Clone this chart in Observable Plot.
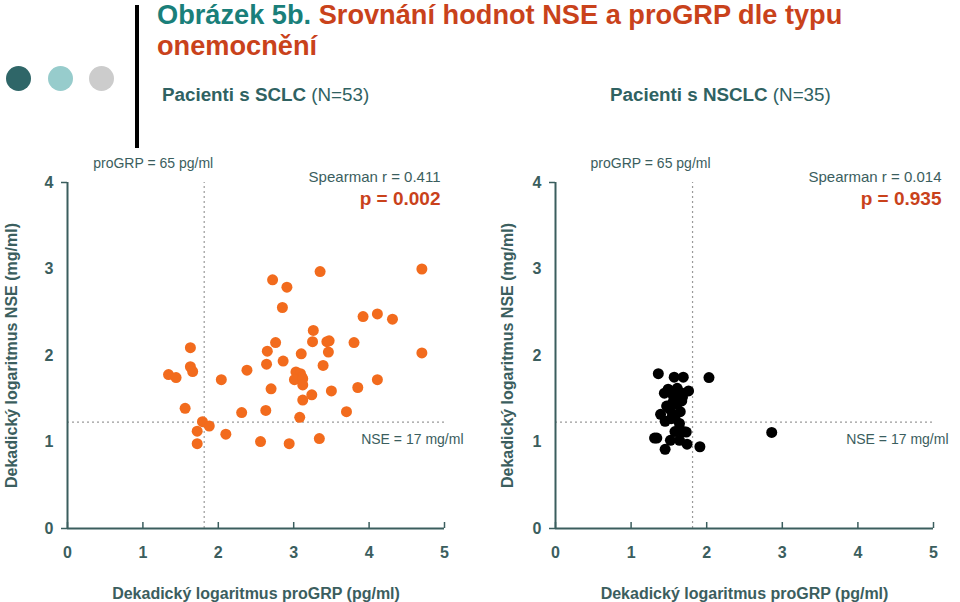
<!DOCTYPE html>
<html>
<head>
<meta charset="utf-8">
<script src="https://cdn.jsdelivr.net/npm/d3@7"></script>
<script src="https://cdn.jsdelivr.net/npm/@observablehq/plot@0.6"></script>
<style>
  html, body { margin: 0; padding: 0; background: #fff; }
  body { width: 960px; height: 602px; position: relative; overflow: hidden; font-family: "Liberation Sans", Arial, sans-serif; }
  .dot { position: absolute; width: 25px; height: 25px; border-radius: 50%; top: 66px; }
  .bar { position: absolute; left: 135px; top: 5px; width: 4px; height: 143px; background: #000; }
  .title { position: absolute; left: 157px; font-size: 27.2px; line-height: 30px; font-weight: bold; color: #c9421b; white-space: nowrap; }
  .title .lead { color: #1a7f7a; }
  .sub { position: absolute; top: 84px; font-size: 18.8px; color: #2f6262; white-space: nowrap; }
  .sub b { font-weight: bold; }
  .panel { position: absolute; top: 140px; }
</style>
</head>
<body>
<div class="dot" style="left:6px;background:#2f6668"></div>
<div class="dot" style="left:48px;background:#97cccc"></div>
<div class="dot" style="left:89px;background:#cccccc"></div>
<div class="bar"></div>
<div class="title" style="top:0px"><span class="lead">Obrázek 5b.</span> Srovnání hodnot NSE a proGRP dle typu</div>
<div class="title" style="top:30.6px">onemocnění</div>
<div class="sub" style="left:162px"><b>Pacienti s SCLC</b> (N=53)</div>
<div class="sub" style="left:610px"><b>Pacienti s NSCLC</b> (N=35)</div>
<div class="panel" id="left" style="left:0px"></div>
<div class="panel" id="right" style="left:490px"></div>
<script>
// ---- data ----
const xTicks = [0, 1, 2, 3, 4, 5];
const yTicks = [0, 1, 2, 3, 4];
const thresholdProGRP = 65; // pg/ml
const thresholdNSE = 17;    // mg/ml

const sclcProGRP = [2.72,3.35,4.70,2.91,2.85,3.92,4.11,4.31,3.26,2.76,3.25,3.44,3.47,3.80,1.63,2.65,3.46,3.10,4.70,2.64,2.86,3.39,1.63,1.66,2.38,1.34,1.44,2.04,3.03,3.09,3.11,3.01,3.12,3.12,4.11,2.70,3.50,3.85,3.12,3.24,1.56,2.31,2.63,3.70,3.08,1.79,1.88,1.72,2.10,1.72,2.56,2.94,3.34];
const sclcNSE = [2.875,2.97,3.0,2.79,2.555,2.45,2.48,2.42,2.29,2.15,2.16,2.16,2.17,2.15,2.09,2.05,2.04,2.02,2.03,1.90,1.935,1.885,1.87,1.815,1.83,1.78,1.745,1.72,1.81,1.79,1.75,1.72,1.73,1.66,1.72,1.615,1.59,1.63,1.485,1.545,1.39,1.34,1.365,1.35,1.285,1.235,1.185,1.125,1.09,0.98,1.005,0.98,1.04];

const nsclcProGRP = [1.36,1.57,1.69,2.03,1.44,1.49,1.61,1.66,1.76,1.56,1.68,1.55,1.67,1.61,1.47,1.51,1.65,1.39,1.55,1.58,1.45,1.64,1.58,1.69,1.73,1.31,1.34,1.52,1.64,1.74,1.45,1.91,2.86,1.62,1.53];
const nsclcNSE = [1.79,1.75,1.75,1.745,1.565,1.61,1.62,1.57,1.59,1.53,1.52,1.455,1.475,1.44,1.415,1.38,1.35,1.32,1.32,1.275,1.24,1.215,1.12,1.12,1.115,1.045,1.045,1.02,1.02,0.975,0.915,0.945,1.11,1.49,1.27];

const sclcStats = {r: "0.411", p: "0.002"};
const nsclcStats = {r: "0.014", p: "0.935"};

const xLabel = "Dekadický logaritmus proGRP (pg/ml)";
const yLabel = "Dekadický logaritmus NSE (mg/ml)";

// ---- styles ----
const axisColor = "#3b5e5e";
const red = "#c9421b";
const font = "'Liberation Sans', Arial, sans-serif";

function panel({xs, ys, color, stats, width, marginLeft, marginRight, yLabelOffset, threshDx, statDx, nseDx}) {
  const idx = d3.range(xs.length);
  const gx = Math.log10(thresholdProGRP);
  const gy = Math.log10(thresholdNSE);
  return Plot.plot({
    width, height: 462,
    marginLeft, marginRight, marginTop: 42, marginBottom: 74,
    x: {domain: [0, 5]},
    y: {domain: [0, 4]},
    style: {fontFamily: font, background: "transparent", overflow: "visible"},
    marks: [
      Plot.ruleX([gx], {y1: 0, y2: 4, stroke: "#9a9a9a", strokeWidth: 1.2, strokeDasharray: "2,3"}),
      Plot.ruleY([gy], {x1: 0, x2: 5, stroke: "#9a9a9a", strokeWidth: 1.2, strokeDasharray: "2,3"}),
      Plot.ruleX([0], {y1: 0, y2: 4, stroke: axisColor, strokeWidth: 2}),
      Plot.ruleY([0], {x1: 0, x2: 5, stroke: axisColor, strokeWidth: 2}),
      Plot.axisX(xTicks, {tickSize: -6, tickPadding: 24, strokeWidth: 1.5, color: axisColor, fontSize: 16, fontWeight: "bold",
        tickFormat: d3.format("d"),
        label: xLabel, labelAnchor: "center", labelOffset: 70, labelArrow: "none"}),
      Plot.axisY(yTicks, {tickSize: 0, tickPadding: 14, color: axisColor, fontSize: 16, fontWeight: "bold",
        tickFormat: d3.format("d"),
        label: yLabel, labelAnchor: "center", labelOffset: yLabelOffset, labelArrow: "none"}),
      Plot.axisY([0, 4], {tickSize: 6, strokeWidth: 1.5, color: axisColor, tickFormat: () => "", label: null}),
      Plot.dot(idx, {x: i => xs[i], y: i => ys[i], r: 5.5, fill: color, stroke: "none"}),
      Plot.text([`proGRP = ${thresholdProGRP} pg/ml`], {x: gx, y: 4, textAnchor: "end", dx: threshDx, dy: -19, fontSize: 14, fill: axisColor}),
      Plot.text([`Spearman r = ${stats.r}`], {frameAnchor: "top-right", textAnchor: "end", dx: statDx, dy: -11, fontSize: 15, fill: axisColor}),
      Plot.text([`p = ${stats.p}`], {frameAnchor: "top-right", textAnchor: "end", dx: statDx, dy: 9, fontSize: 19, fontWeight: "bold", fill: red}),
      Plot.text([`NSE = ${thresholdNSE} mg/ml`], {x: 5, y: gy, textAnchor: "end", dx: nseDx, dy: 17, fontSize: 14, fill: axisColor})
    ]
  });
}

document.getElementById("left").append(panel({
  xs: sclcProGRP, ys: sclcNSE, color: "#f26b1d", stats: sclcStats,
  width: 490, marginLeft: 67, marginRight: 46, yLabelOffset: 62, threshDx: 9, statDx: -4, nseDx: 19
}));
document.getElementById("right").append(panel({
  xs: nsclcProGRP, ys: nsclcNSE, color: "#000000", stats: nsclcStats,
  width: 470, marginLeft: 65, marginRight: 27, yLabelOffset: 54, threshDx: 18, statDx: 8, nseDx: 15
}));
</script>
</body>
</html>
